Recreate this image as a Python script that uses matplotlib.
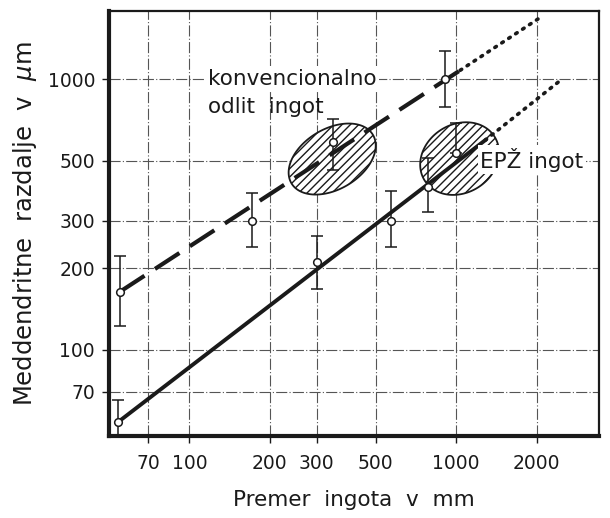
import numpy as np
import matplotlib
matplotlib.use("Agg")
import matplotlib.pyplot as plt

# ---------------------------------------------------------
# Data (log-log)
# ---------------------------------------------------------
# conventionally cast ingot (open circles + error bars)
konv_x = [55, 171, 345, 905]
konv_y = [164, 300, 585, 1000]
konv_lo = [122, 239, 461, 788]
konv_hi = [222, 379, 711, 1268]

# ESR (EPZ) ingot
epz_x = [54, 300, 570, 785, 1000]
epz_y = [54, 211, 300, 400, 535]
epz_lo = [48, 168, 240, 323, 535]
epz_hi = [65, 263, 386, 511, 688]

# fitted lines: start, end of full line, end of dotted extension
konv_line_x = [55, 1035, 2120]
konv_line_y = [164, 1079, 1720]
epz_line_x = [54, 1284, 2410]
epz_line_y = [54, 595, 975]

# hatched scatter regions: centre (x, y), semi-axes in decades, tilt
ell_centres = [(343, 507), (1030, 509)]
ell_axes = [(0.177, 0.112), (0.154, 0.127)]
ell_angle = [30, 30]

xticks = [70, 100, 200, 300, 500, 1000, 2000]
yticks = [70, 100, 200, 300, 500, 1000]

# ---------------------------------------------------------
# Figure
# ---------------------------------------------------------
plt.rcParams['font.family'] = ['DejaVu Sans']
fig = plt.figure(figsize=(6.1, 5.18), dpi=100)
ax = fig.add_axes([0.1787, 0.1583, 0.8033, 0.8195])
ax.set_xscale('log')
ax.set_yscale('log')
ax.set_xlim(50, 3430)
ax.set_ylim(48, 1780)

ink = '#1a1a1a'

# grid
for xv in xticks:
    ax.axvline(xv, color='#555555', lw=0.8, ls=(0, (10, 2, 1, 2)), zorder=1)
for yv in yticks:
    ax.axhline(yv, color='#555555', lw=0.8, ls=(0, (10, 2, 1, 2)), zorder=1)

# ellipses
t = np.linspace(0, 2 * np.pi, 200)
for (cx, cy), (a, b), ang in zip(ell_centres, ell_axes, ell_angle):
    th = np.radians(ang)
    lx = np.log10(cx) + a * np.cos(t) * np.cos(th) - b * np.sin(t) * np.sin(th)
    ly = np.log10(cy) + a * np.cos(t) * np.sin(th) + b * np.sin(t) * np.cos(th)
    ax.fill(10 ** lx, 10 ** ly, facecolor='white', edgecolor=ink,
            hatch='////', lw=1.3, zorder=2)

# lines
ax.plot(konv_line_x[:2], konv_line_y[:2], color=ink, lw=3.0,
        ls=(0, (7, 3)), zorder=3)
ax.plot(konv_line_x[1:], konv_line_y[1:], color=ink, lw=2.6,
        ls=(0, (0.5, 1.8)), dash_capstyle='round', zorder=3)
ax.plot(epz_line_x[:2], epz_line_y[:2], color=ink, lw=2.8, zorder=3)
ax.plot(epz_line_x[1:], epz_line_y[1:], color=ink, lw=2.6,
        ls=(0, (0.5, 1.8)), dash_capstyle='round', zorder=3)

# points with error bars
for xs, ys, lo, hi in [(konv_x, konv_y, konv_lo, konv_hi),
                       (epz_x, epz_y, epz_lo, epz_hi)]:
    ys = np.array(ys)
    yerr = [ys - np.array(lo), np.array(hi) - ys]
    ax.errorbar(xs, ys, yerr=yerr, fmt='o', ms=5.5, mfc='white', mec=ink,
                mew=1.1, ecolor=ink, elinewidth=1.1, capsize=4,
                capthick=1.1, zorder=4, clip_on=False)

# labels inside the plot
bbox = dict(facecolor='white', edgecolor='none', pad=2.0)
ax.text(117, 1000, 'konvencionalno', fontsize=15.5, color=ink,
        ha='left', va='center', bbox=bbox, zorder=5)
ax.text(117, 787, 'odlit  ingot', fontsize=15.5, color=ink,
        ha='left', va='center', zorder=5)
ax.text(1233, 505, 'EPŽ ingot', fontsize=15.5, color=ink,
        ha='left', va='center', bbox=bbox, zorder=5)

# axes formatting
ax.set_xticks(xticks)
ax.set_xticklabels([str(v) for v in xticks])
ax.set_yticks(yticks)
ax.set_yticklabels([str(v) for v in yticks])
ax.minorticks_off()
ax.tick_params(axis='both', labelsize=13.5, colors=ink, length=5,
               width=1.0, direction='out')
ax.tick_params(axis='y', pad=5)
ax.tick_params(axis='x', pad=8)

for side in ['left', 'bottom']:
    ax.spines[side].set_linewidth(3.0)
for side in ['top', 'right']:
    ax.spines[side].set_linewidth(1.6)
for sp in ax.spines.values():
    sp.set_color(ink)

ax.set_xlabel('Premer  ingota  v  mm', fontsize=15.5, color=ink, labelpad=12)
ax.set_ylabel('Meddendritne  razdalje  v  $\\mu$m', fontsize=17.5, color=ink,
              labelpad=6)

plt.savefig('out.png', dpi=100)
plt.close()
